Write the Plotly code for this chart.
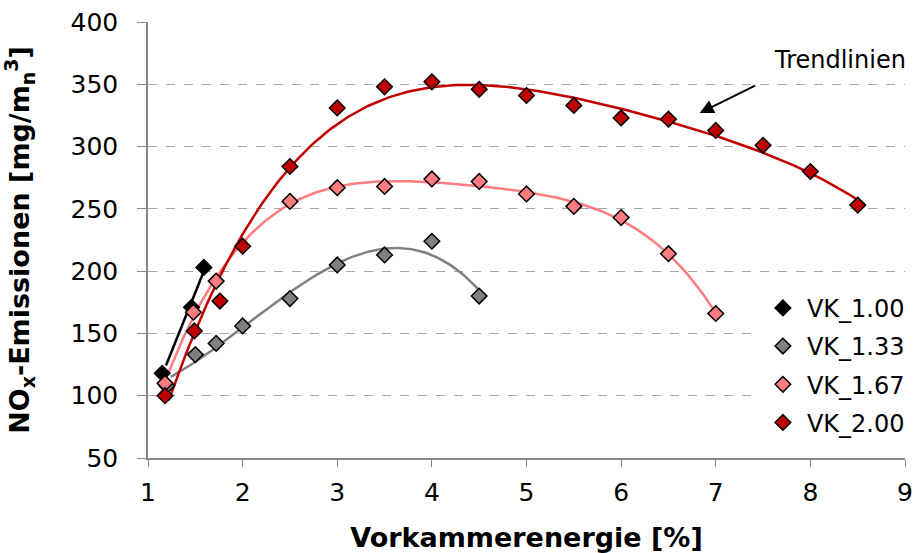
import numpy as np
import plotly.graph_objects as go

# Measured NOx emissions per prechamber ratio
x_100 = [1.15, 1.46, 1.59]
y_100 = [118, 171, 203]

x_133 = [1.2, 1.5, 1.72, 2.0, 2.5, 3.0, 3.5, 4.0, 4.5]
y_133 = [108, 133, 142, 156, 178, 205, 213, 224, 180]

x_167 = [1.18, 1.48, 1.72, 2.5, 3.0, 3.5, 4.0, 4.5, 5.0, 5.5, 6.0, 6.5, 7.0]
y_167 = [110, 167, 192, 256, 267, 268, 274, 272, 262, 252, 243, 214, 166]

x_200 = [1.18, 1.49, 1.76, 2.0, 2.5, 3.0, 3.5, 4.0, 4.5, 5.0, 5.5, 6.0, 6.5, 7.0, 7.5, 8.0, 8.5]
y_200 = [100, 152, 176, 220, 284, 331, 348, 352, 346, 341, 333, 323, 322, 313, 301, 280, 253]

series = [
    ("VK_1.00", x_100, y_100, "#000000", 1),
    ("VK_1.33", x_133, y_133, "#808080", 3),
    ("VK_1.67", x_167, y_167, "#FF7C80", 4),
    ("VK_2.00", x_200, y_200, "#C00000", 4),
]

fig = go.Figure()

# Polynomial trend lines
for name, xs, ys, color, deg in series:
    coef = np.polyfit(xs, ys, deg)
    xf = np.linspace(min(xs) + 0.04, max(xs), 200)
    fig.add_trace(go.Scatter(
        x=xf, y=np.polyval(coef, xf), mode="lines",
        line=dict(color=color, width=2.5), showlegend=False, hoverinfo="skip"))

# Measurement markers
for i, (name, xs, ys, color, deg) in enumerate(series):
    fig.add_trace(go.Scatter(
        x=xs, y=ys, mode="markers", name=name, legendgroup=f"g{i}",
        marker=dict(symbol="diamond", size=12, color=color,
                    line=dict(color="#000000", width=1.5))))

font_family = "DejaVu Sans, Verdana, sans-serif"

fig.update_layout(
    width=919, height=553,
    margin=dict(l=148, r=9, t=22, b=95),
    paper_bgcolor="white", plot_bgcolor="white",
    font=dict(family=font_family, size=24, color="#000000"),
    showlegend=True,
    legend=dict(
        x=0.807, y=0.395, xanchor="left", yanchor="top",
        bgcolor="white", borderwidth=0, itemwidth=38,
        font=dict(size=24), tracegroupgap=4, traceorder="grouped",
    ),
    xaxis=dict(
        range=[1, 9], dtick=1, tick0=1, automargin=False,
        showgrid=False, zeroline=False,
        showline=True, linecolor="#868686", linewidth=1.5,
        ticks="outside", ticklen=7, tickcolor="#868686",
        tickfont=dict(size=25), ticklabelstandoff=4,
        title=dict(text="<b>Vorkammerenergie [%]</b>", font=dict(size=27), standoff=24),
    ),
    yaxis=dict(
        range=[50, 400], dtick=50, tick0=50, automargin=False,
        showgrid=True, gridcolor="#A6A6A6", griddash="dash", gridwidth=1,
        zeroline=False,
        showline=True, linecolor="#868686", linewidth=1.5,
        ticks="outside", ticklen=9, tickcolor="#868686",
        tickfont=dict(size=25), ticklabelstandoff=14,
        title=dict(text="<b>NO<sub>x</sub>-Emissionen [mg/m<sub>n</sub><sup>3</sup>]</b>",
                   font=dict(size=27), standoff=33),
    ),
)

# "Trendlinien" label with arrow
fig.add_annotation(x=6.83, y=327, xref="x", yref="y", text="",
                   showarrow=True, ax=57, ay=-28, axref="pixel", ayref="pixel",
                   arrowhead=2, arrowsize=1.4, arrowwidth=2, arrowcolor="#000000")
fig.add_annotation(x=(845 - 148) / 762, y=(458 - 60) / 436, xref="paper", yref="paper",
                   xanchor="center", yanchor="middle",
                   text="Trendlinien", showarrow=False, font=dict(size=24))

fig.write_html("out.html")
